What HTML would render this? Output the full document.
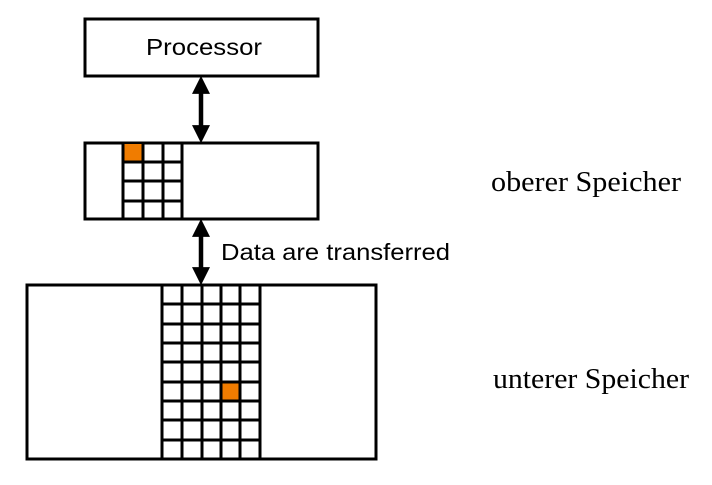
<!DOCTYPE html>
<html><head><style>body{margin:0;background:#fff}</style></head><body>
<svg width="712" height="480" xmlns="http://www.w3.org/2000/svg">
<defs>
<marker id="a" markerWidth="4" markerHeight="4" refX="2.2" refY="2" orient="auto-start-reverse" markerUnits="strokeWidth"><path d="M0,0 L4,2 L0,4 Z" fill="#000"/></marker>
</defs>
<g fill="none" stroke="#000" stroke-width="3">
<rect x="85" y="19" width="233" height="57" fill="#fff"/>
<rect x="85" y="143" width="233" height="76" fill="#fff"/>
<rect x="27" y="285" width="349" height="174" fill="#fff"/>
</g>
<rect x="124" y="144" width="19" height="18" fill="#f07c00"/>
<rect x="221" y="382" width="19" height="19" fill="#f07c00"/>
<g stroke="#000" stroke-width="3">
<line x1="123" y1="143" x2="123" y2="219"/><line x1="143" y1="143" x2="143" y2="219"/><line x1="163" y1="143" x2="163" y2="219"/><line x1="182" y1="143" x2="182" y2="219"/>
<line x1="123" y1="162" x2="182" y2="162"/><line x1="123" y1="181" x2="182" y2="181"/><line x1="123" y1="201" x2="182" y2="201"/>
<line x1="162" y1="285" x2="162" y2="459"/><line x1="182" y1="285" x2="182" y2="459"/><line x1="202" y1="285" x2="202" y2="459"/><line x1="221" y1="285" x2="221" y2="459"/><line x1="240" y1="285" x2="240" y2="459"/><line x1="260" y1="285" x2="260" y2="459"/>
<line x1="162" y1="304" x2="260" y2="304"/><line x1="162" y1="324" x2="260" y2="324"/><line x1="162" y1="343" x2="260" y2="343"/><line x1="162" y1="362" x2="260" y2="362"/><line x1="162" y1="382" x2="260" y2="382"/><line x1="162" y1="401" x2="260" y2="401"/><line x1="162" y1="420" x2="260" y2="420"/><line x1="162" y1="440" x2="260" y2="440"/>
</g>
<g stroke="#000" stroke-width="4.5">
<line x1="201" y1="84" x2="201" y2="135" marker-start="url(#a)" marker-end="url(#a)"/>
<line x1="201" y1="227" x2="201" y2="277" marker-start="url(#a)" marker-end="url(#a)"/>
</g>
<text x="146" y="55" font-family="Liberation Sans, sans-serif" font-size="23" textLength="116" lengthAdjust="spacingAndGlyphs">Processor</text>
<text x="221" y="260" font-family="Liberation Sans, sans-serif" font-size="23" textLength="229" lengthAdjust="spacingAndGlyphs">Data are transferred</text>
<text x="491" y="191" font-family="Liberation Serif, serif" font-size="28" textLength="190" lengthAdjust="spacingAndGlyphs">oberer Speicher</text>
<text x="493" y="388" font-family="Liberation Serif, serif" font-size="28" textLength="196" lengthAdjust="spacingAndGlyphs">unterer Speicher</text>
</svg>
</body></html>
